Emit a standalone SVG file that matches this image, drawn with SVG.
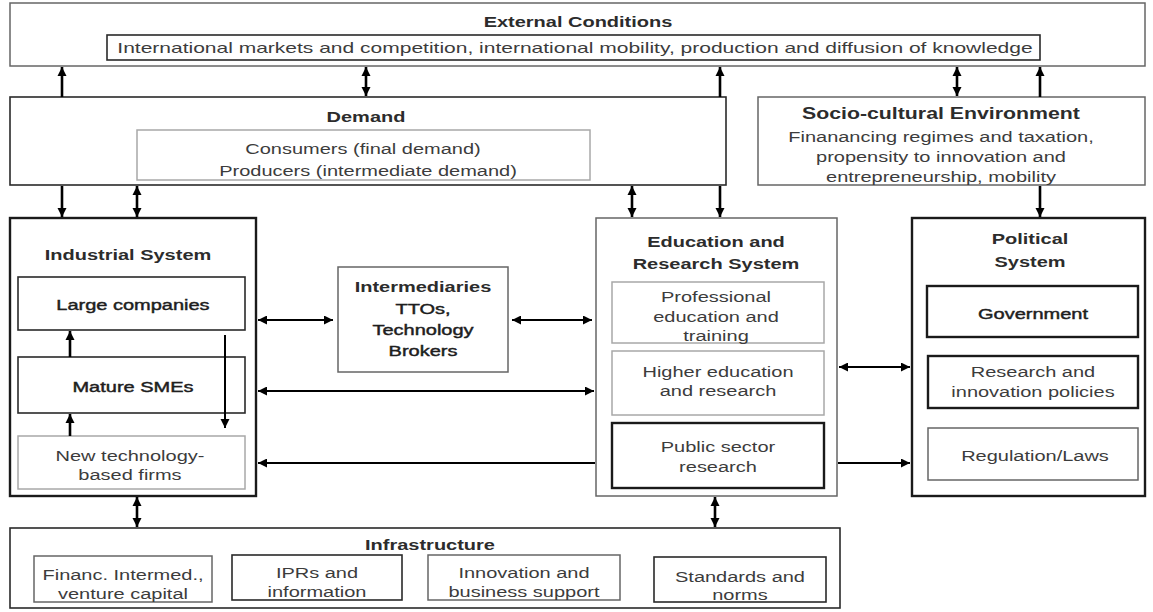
<svg xmlns="http://www.w3.org/2000/svg" width="1153" height="612" viewBox="0 0 1153 612">
  <style>
    .t { font-family: "Liberation Sans", Arial, sans-serif; font-size: 15.5px; fill: #3c3c3c; text-anchor: middle; transform-box: fill-box; transform-origin: center; transform: scaleX(1.29); }
    .b { font-weight: bold; fill: #2c2c2c; }
    .s { fill: #1e1e1e; stroke: #1e1e1e; stroke-width: 0.45px; }
    .wide { transform: scaleX(1.42); }
    .box { fill: #fff; }
    .dk { stroke: #2a2a2a; stroke-width: 1.6; }
    .hv { stroke: #1a1a1a; stroke-width: 2.4; }
    .md { stroke: #666; stroke-width: 1.5; }
    .lt { stroke: #a8a8a8; stroke-width: 1.5; }
    .v { stroke: #000; stroke-width: 2.6; fill: none; }
    .h { stroke: #000; stroke-width: 2; fill: none; }
  </style>
  <defs>
    <marker id="av" viewBox="0 0 10 10" refX="10" refY="5" markerUnits="userSpaceOnUse" markerWidth="9" markerHeight="11" orient="auto-start-reverse">
      <path d="M0,0 L10,5 L0,10 z" fill="#000"/>
    </marker>
    <marker id="ah" viewBox="0 0 10 10" refX="10" refY="5" markerUnits="userSpaceOnUse" markerWidth="14" markerHeight="9" orient="auto-start-reverse">
      <path d="M0,0 L10,5 L0,10 z" fill="#000"/>
    </marker>
  </defs>

  <rect width="1153" height="612" fill="#fff"/>

  <!-- External conditions -->
  <g id="external">
    <rect class="box md" x="10" y="3" width="1135" height="63"/>
    <text class="t b" x="578" y="27">External Conditions</text>
    <rect class="box dk" x="107" y="35" width="933" height="25"/>
    <text class="t wide" x="575" y="53" style="font-size:14.8px">International markets and competition, international mobility,  production and diffusion of knowledge</text>
  </g>

  <!-- Demand -->
  <g id="demand">
    <rect class="box dk" x="10" y="97" width="716" height="88"/>
    <text class="t b" x="366" y="122">Demand</text>
    <rect class="box lt" x="137" y="130" width="453" height="50"/>
    <text class="t" x="363" y="154">Consumers (final demand)</text>
    <text class="t" x="368" y="176">Producers (intermediate demand)</text>
  </g>

  <!-- Socio-cultural environment -->
  <g id="socio">
    <rect class="box md" x="758" y="97" width="387" height="88"/>
    <text class="t b" x="941" y="119" style="font-size:16.5px">Socio-cultural Environment</text>
    <text class="t" x="941" y="142">Finanancing regimes and taxation,</text>
    <text class="t" x="941" y="162">propensity to innovation and</text>
    <text class="t" x="941" y="182">entrepreneurship, mobility</text>
  </g>

  <!-- Industrial system -->
  <g id="industrial">
    <rect class="box hv" x="10" y="218" width="246" height="278"/>
    <text class="t b" x="128" y="260">Industrial System</text>
    <rect class="box dk" x="18" y="277" width="227" height="53"/>
    <text class="t s" x="133" y="310">Large companies</text>
    <rect class="box dk" x="18" y="357" width="227" height="56"/>
    <text class="t s" x="133" y="392">Mature SMEs</text>
    <rect class="box lt" x="18" y="436" width="227" height="53"/>
    <text class="t" x="130" y="461">New technology-</text>
    <text class="t" x="130" y="480">based firms</text>
  </g>

  <!-- Intermediaries -->
  <g id="intermediaries">
    <rect class="box md" x="338" y="267" width="170" height="105"/>
    <text class="t b" x="423" y="292">Intermediaries</text>
    <text class="t s" x="423" y="314">TTOs,</text>
    <text class="t s" x="423" y="335">Technology</text>
    <text class="t s" x="423" y="356">Brokers</text>
  </g>

  <!-- Education and research system -->
  <g id="education">
    <rect class="box md" x="596" y="218" width="241" height="278"/>
    <text class="t b" x="716" y="247">Education and</text>
    <text class="t b" x="716" y="269">Research System</text>
    <rect class="box lt" x="612" y="282" width="212" height="61"/>
    <text class="t" x="716" y="302">Professional</text>
    <text class="t" x="716" y="322">education and</text>
    <text class="t" x="716" y="341">training</text>
    <rect class="box lt" x="612" y="351" width="212" height="64"/>
    <text class="t" x="718" y="377">Higher education</text>
    <text class="t" x="718" y="396">and research</text>
    <rect class="box hv" x="612" y="423" width="212" height="65"/>
    <text class="t" x="718" y="452">Public sector</text>
    <text class="t" x="718" y="472">research</text>
  </g>

  <!-- Political system -->
  <g id="political">
    <rect class="box hv" x="912" y="218" width="233" height="278"/>
    <text class="t b" x="1030" y="244">Political</text>
    <text class="t b" x="1030" y="267">System</text>
    <rect class="box hv" x="927" y="286" width="211" height="51"/>
    <text class="t s" x="1033" y="319">Government</text>
    <rect class="box hv" x="928" y="356" width="210" height="52"/>
    <text class="t" x="1033" y="377">Research and</text>
    <text class="t" x="1033" y="397">innovation policies</text>
    <rect class="box md" x="928" y="428" width="210" height="52"/>
    <text class="t" x="1035" y="461">Regulation/Laws</text>
  </g>

  <!-- Infrastructure -->
  <g id="infrastructure">
    <rect class="box dk" x="10" y="528" width="830" height="80"/>
    <text class="t b" x="430" y="550">Infrastructure</text>
    <rect class="box md" x="34" y="556" width="178" height="46"/>
    <text class="t" x="123" y="580">Financ. Intermed.,</text>
    <text class="t" x="123" y="599">venture capital</text>
    <rect class="box dk" x="232" y="555" width="170" height="45"/>
    <text class="t" x="317" y="578">IPRs and</text>
    <text class="t" x="317" y="597">information</text>
    <rect class="box md" x="428" y="555" width="192" height="45"/>
    <text class="t" x="524" y="578">Innovation and</text>
    <text class="t" x="524" y="597">business support</text>
    <rect class="box dk" x="654" y="557" width="172" height="45"/>
    <text class="t" x="740" y="582">Standards and</text>
    <text class="t" x="740" y="600">norms</text>
  </g>

  <!-- Connectors -->
  <g id="connectors">
    <!-- external conditions / demand / socio-cultural -->
    <line class="v" x1="62" y1="97" x2="62" y2="67" marker-end="url(#av)"/>
    <line class="v" x1="366" y1="67" x2="366" y2="96" marker-start="url(#av)" marker-end="url(#av)"/>
    <line class="v" x1="720" y1="97" x2="720" y2="67" marker-end="url(#av)"/>
    <line class="v" x1="957" y1="67" x2="957" y2="96" marker-start="url(#av)" marker-end="url(#av)"/>
    <line class="v" x1="1040" y1="97" x2="1040" y2="67" marker-end="url(#av)"/>
    <!-- demand / systems -->
    <line class="v" x1="62" y1="186" x2="62" y2="217" marker-end="url(#av)"/>
    <line class="v" x1="137" y1="186" x2="137" y2="217" marker-start="url(#av)" marker-end="url(#av)"/>
    <line class="v" x1="632" y1="186" x2="632" y2="217" marker-start="url(#av)" marker-end="url(#av)"/>
    <line class="v" x1="720" y1="186" x2="720" y2="217" marker-end="url(#av)"/>
    <line class="v" x1="1040" y1="186" x2="1040" y2="217" marker-end="url(#av)"/>
    <!-- within the industrial system -->
    <line class="v" x1="70" y1="357" x2="70" y2="331" marker-end="url(#av)"/>
    <line class="v" x1="70" y1="436" x2="70" y2="414" marker-end="url(#av)"/>
    <line class="h" x1="225" y1="335" x2="225" y2="428" marker-end="url(#av)"/>
    <!-- horizontal links -->
    <line class="h" x1="258" y1="320" x2="333" y2="320" marker-start="url(#ah)" marker-end="url(#ah)"/>
    <line class="h" x1="512" y1="320" x2="592" y2="320" marker-start="url(#ah)" marker-end="url(#ah)"/>
    <line class="h" x1="258" y1="391" x2="594" y2="391" marker-start="url(#ah)" marker-end="url(#ah)"/>
    <line class="h" x1="595" y1="463" x2="258" y2="463" marker-end="url(#ah)"/>
    <line class="h" x1="839" y1="367" x2="910" y2="367" marker-start="url(#ah)" marker-end="url(#ah)"/>
    <line class="h" x1="838" y1="463" x2="910" y2="463" marker-end="url(#ah)"/>
    <!-- systems / infrastructure -->
    <line class="v" x1="137" y1="497" x2="137" y2="527" marker-start="url(#av)" marker-end="url(#av)"/>
    <line class="v" x1="715" y1="497" x2="715" y2="527" marker-start="url(#av)" marker-end="url(#av)"/>
  </g>
</svg>
